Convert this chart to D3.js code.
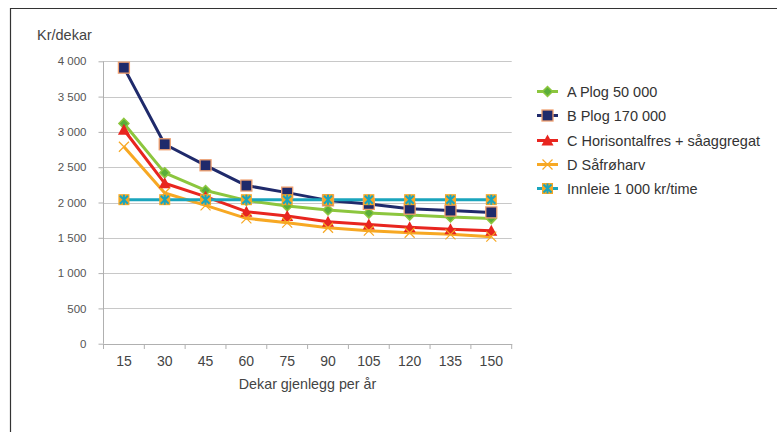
<!DOCTYPE html>
<html><head><meta charset="utf-8">
<script src="https://cdn.jsdelivr.net/npm/d3@7"></script>
<style>body{margin:0;background:#fff}svg{display:block;font-family:"Liberation Sans",Arial,sans-serif}</style>
</head><body><svg id="c" width="777" height="432"></svg>
<script>
const categories = ["15","30","45","60","75","90","105","120","135","150"];
const seriesA = [3120,2420,2170,2030,1950,1895,1850,1822,1795,1772];
const seriesB = [3910,2825,2527,2240,2140,2030,1980,1912,1885,1860];
const seriesC = [3030,2272,2083,1870,1808,1728,1690,1650,1620,1600];
const seriesD = [2790,2135,1960,1776,1714,1643,1601,1572,1549,1516];
const seriesE = [2040,2040,2040,2040,2040,2040,2040,2040,2040,2040];
const seriesNames = ["A Plog 50 000","B Plog 170 000","C Horisontalfres + såaggregat","D Såfrøharv","Innleie 1 000 kr/time"];
const yTicks = [0,500,1000,1500,2000,2500,3000,3500,4000];

const series = [
  {name: seriesNames[0], values: seriesA, color:"#8cc63e", marker:"diamond"},
  {name: seriesNames[1], values: seriesB, color:"#1f2a6b", marker:"square"},
  {name: seriesNames[2], values: seriesC, color:"#e8251f", marker:"triangle"},
  {name: seriesNames[3], values: seriesD, color:"#f7a823", marker:"x"},
  {name: seriesNames[4], values: seriesE, color:"#1aa5bd", marker:"star"}
];

const svg = d3.select("#c");
const fmtY = v => v >= 1000 ? Math.floor(v/1000) + " " + String(v%1000).padStart(3,"0") : String(v);

// frame
svg.append("path").attr("d","M10.5,432 V8.5 H777").attr("fill","none").attr("stroke","#333").attr("stroke-width",1.2);

const x = d3.scaleBand().domain(categories).range([103.5, 511.7]).padding(0);
const y = d3.scaleLinear().domain([0,4000]).range([343.7, 61.3]);

const g = svg.append("g");
// gridlines
g.selectAll("line.grid").data(yTicks.filter(d=>d>0)).join("line")
  .attr("x1",103.5).attr("x2",511.7)
  .attr("y1",d=>Math.round(y(d))+0.5).attr("y2",d=>Math.round(y(d))+0.5)
  .attr("stroke","#c8c8c8").attr("stroke-width",1.2);

// y axis
const yAx = g.append("g").attr("transform","translate(103.5,0)")
  .call(d3.axisLeft(y).tickValues(yTicks).tickSize(5).tickPadding(12).tickFormat(fmtY));
yAx.select(".domain").attr("stroke","#b0b0b0").attr("d","M0,"+y(4000)+"V"+y(0));
yAx.selectAll(".tick line").attr("stroke","#b0b0b0");
yAx.selectAll(".tick text").attr("fill","#555").attr("font-size","11.5px").attr("font-family","Liberation Sans, Arial");

// x axis
const xAx = g.append("g").attr("transform","translate(0,"+(y(0)+0.3)+")")
  .call(d3.axisBottom(x).tickSize(0).tickPadding(12.5));
xAx.select(".domain").attr("stroke","#b0b0b0");
xAx.selectAll(".tick text").attr("fill","#444").attr("font-size","14px");
const bounds = categories.map(c=>x(c)).concat([x.range()[1]]);
xAx.selectAll("line.b").data(bounds).join("line").attr("class","b")
  .attr("x1",d=>d).attr("x2",d=>d).attr("y1",0).attr("y2",5).attr("stroke","#b0b0b0");

svg.append("text").attr("x",37).attr("y",39.5).attr("fill","#444").attr("font-size","14.5px").text("Kr/dekar");
svg.append("text").attr("x",307.5).attr("y",389).attr("text-anchor","middle").attr("fill","#444").attr("font-size","14.3px").text("Dekar gjenlegg per år");

const cx = c => x(c) + x.bandwidth()/2;

function drawMarker(sel, s, px, py) {
  const m = sel.append("g").attr("transform",`translate(${px},${py})`);
  if (s.marker==="diamond") {
    m.append("path").attr("d","M0,-5L5,0L0,5L-5,0Z").attr("fill","#5aae3a").attr("stroke","#8cc63e").attr("stroke-width",1.5);
  } else if (s.marker==="square") {
    m.append("rect").attr("x",-5.5).attr("y",-5.5).attr("width",11).attr("height",11).attr("fill","#1f2a6b").attr("stroke","#f0a070").attr("stroke-width",1.3);
  } else if (s.marker==="triangle") {
    m.append("path").attr("d","M0,-6L6,5L-6,5Z").attr("fill","#e8251f");
  } else if (s.marker==="x") {
    m.append("path").attr("d","M-5,-5L5,5M-5,5L5,-5").attr("stroke","#f7a823").attr("stroke-width",1.2);
  } else {
    m.append("rect").attr("x",-5.5).attr("y",-5.5).attr("width",11).attr("height",11).attr("fill","#f7a823");
    m.append("path").attr("d","M-4,-4L4,4M-4,4L4,-4M0,-5V5").attr("stroke","#1aa5bd").attr("stroke-width",2);
  }
}

const line = d3.line().x((d,i)=>cx(categories[i])).y(d=>y(d));
const order = [0,2,3,1,4];
order.forEach(k=>{
  const s = series[k];
  g.append("path").datum(s.values).attr("d",line).attr("fill","none").attr("stroke",s.color).attr("stroke-width",3).attr("stroke-linejoin","round");
});
order.forEach(k=>{
  const s = series[k];
  s.values.forEach((v,i)=>drawMarker(g, s, cx(categories[i]), y(v)));
});

// legend
const legendY = [91.5, 115.5, 140.5, 164.5, 188.5];
series.forEach((s,i)=>{
  const ly = legendY[i];
  svg.append("line").attr("x1",537).attr("x2",558).attr("y1",ly).attr("y2",ly).attr("stroke",s.color).attr("stroke-width",3);
  drawMarker(svg, s, 547.5, ly);
  svg.append("text").attr("x",567).attr("y",ly+5).attr("fill","#333").attr("font-size","14.5px").text(s.name);
});
</script></body></html>
